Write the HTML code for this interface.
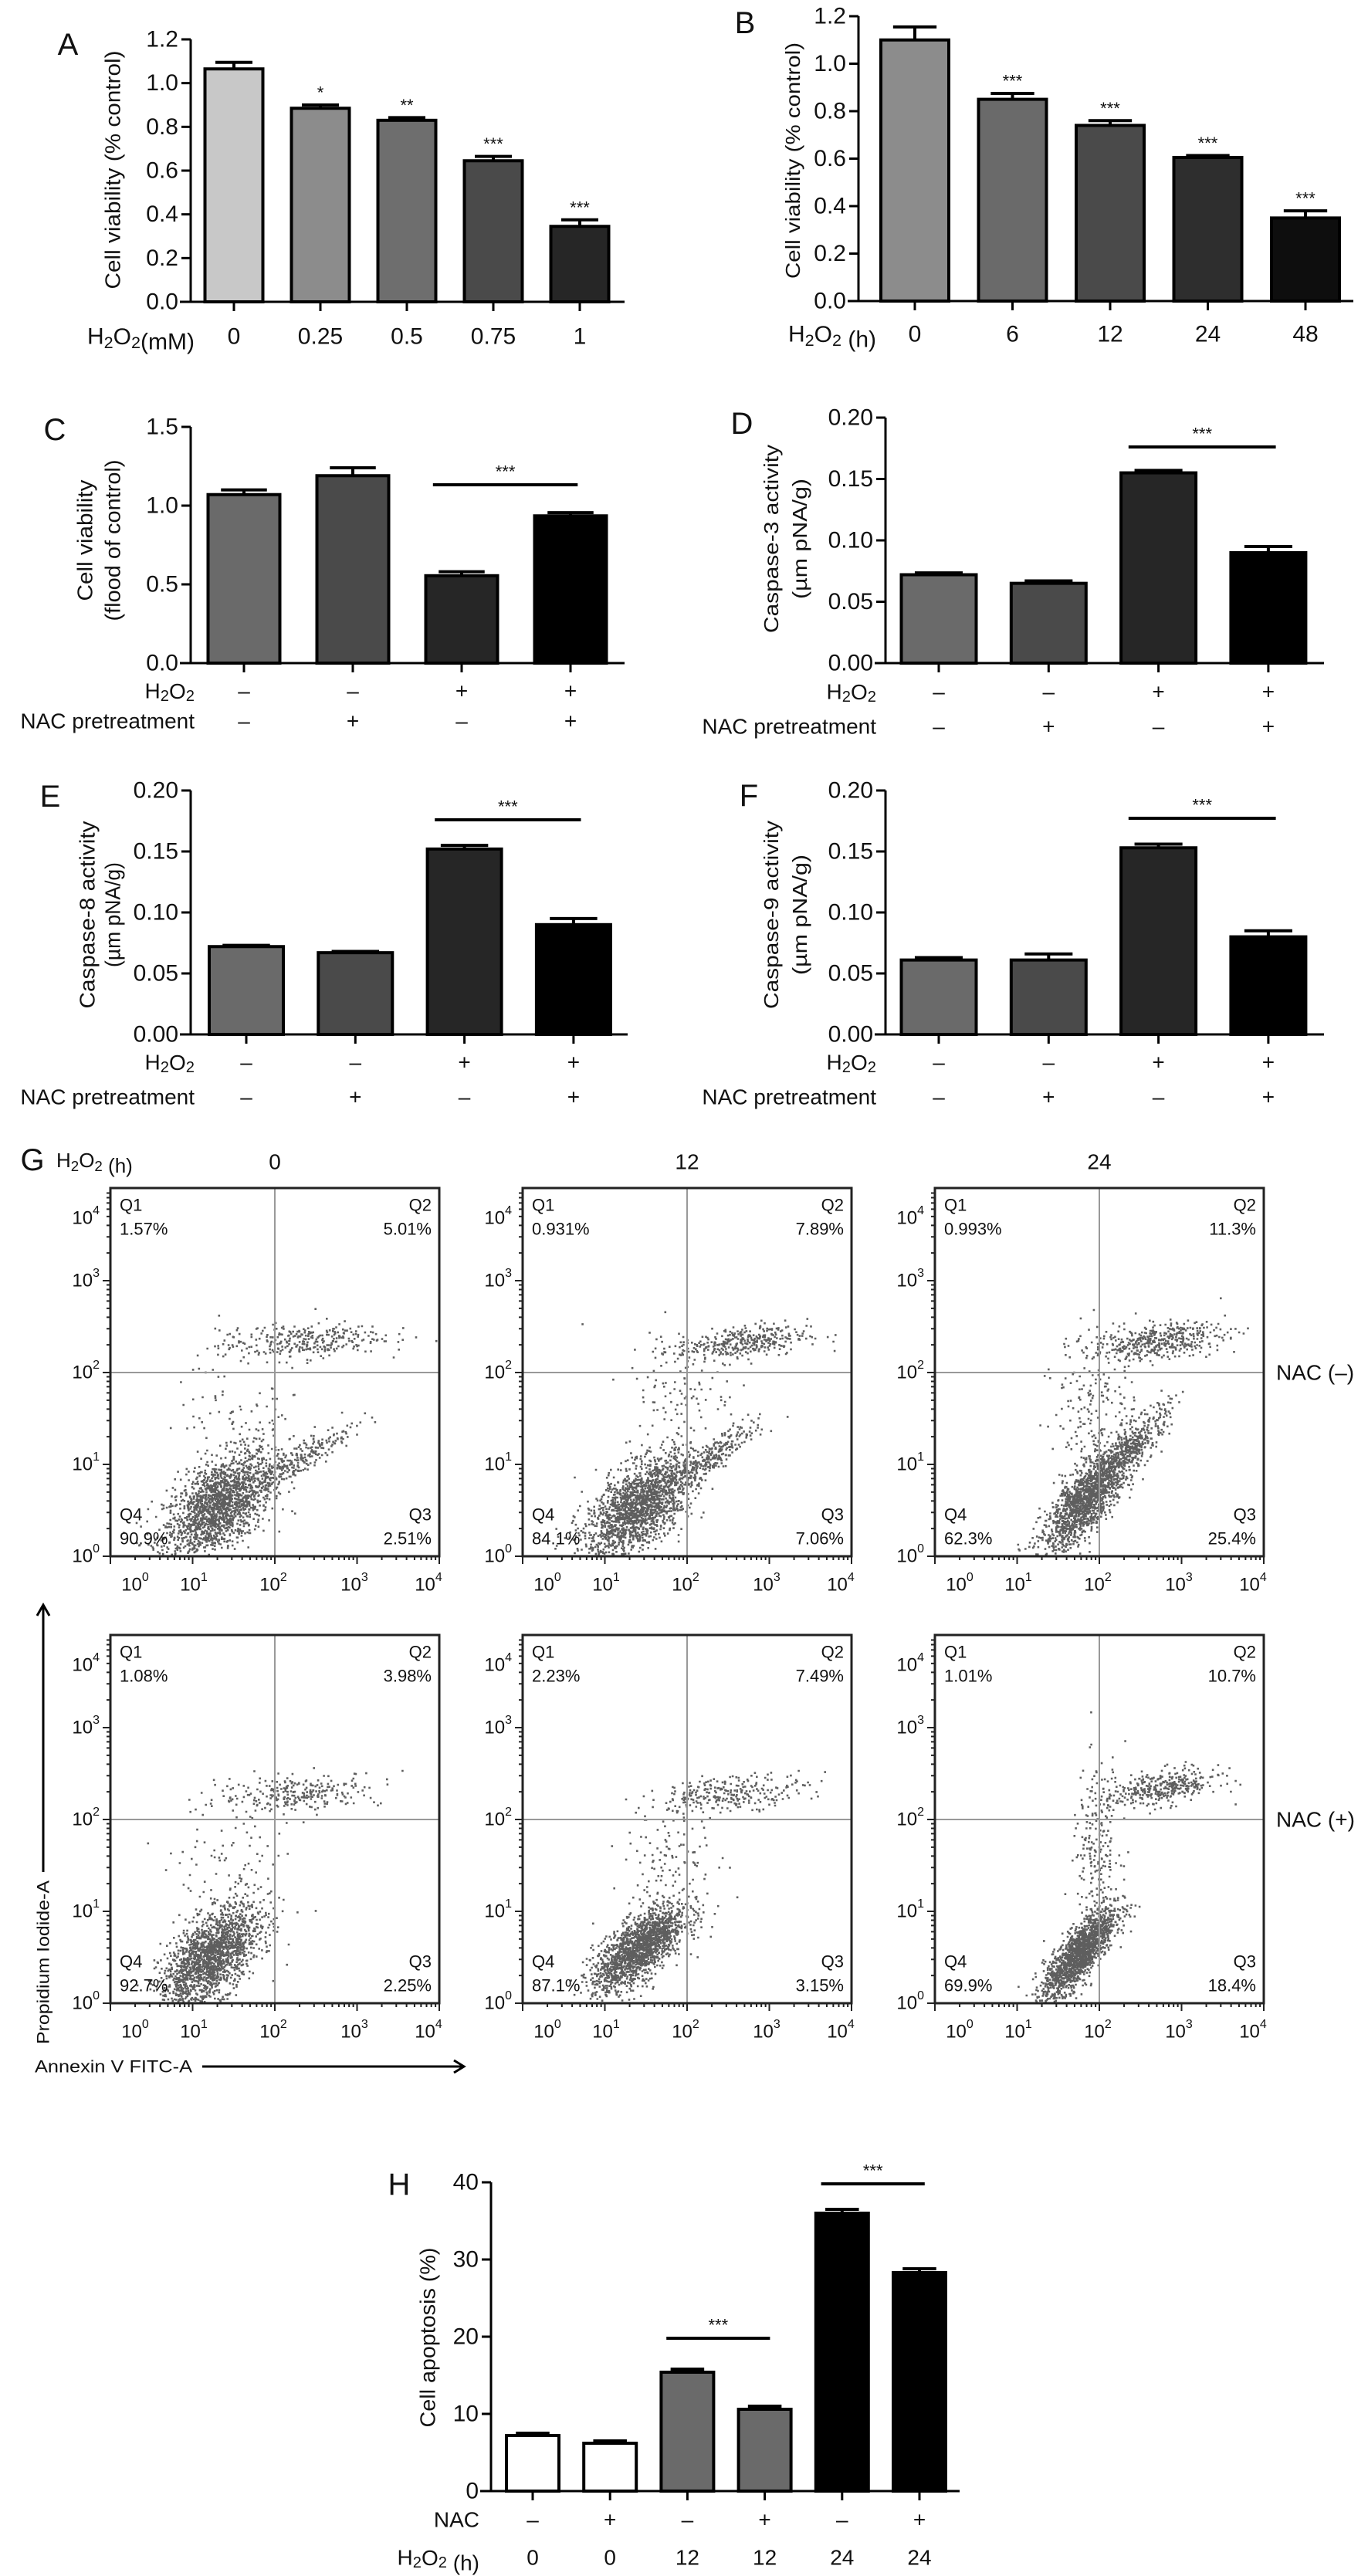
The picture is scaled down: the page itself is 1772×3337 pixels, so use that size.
<!DOCTYPE html>
<html><head><meta charset="utf-8">
<style>
html,body{margin:0;padding:0;background:#fff;}
svg{display:block;font-family:"Liberation Sans",Arial,sans-serif;}
</style></head>
<body>
<svg id="fig" width="1772" height="3337" viewBox="0 0 1772 3337" xmlns="http://www.w3.org/2000/svg"></svg>
<script>
// ---------- DATA ----------
const A_cats=['0','0.25','0.5','0.75','1'];
const A_vals=[1.065,0.885,0.83,0.645,0.345];
const A_errs=[0.03,0.015,0.012,0.02,0.03];
const A_stars=['','*','**','***','***'];
const A_ticks=['0.0','0.2','0.4','0.6','0.8','1.0','1.2'];

const B_cats=['0','6','12','24','48'];
const B_vals=[1.10,0.85,0.74,0.605,0.35];
const B_errs=[0.055,0.025,0.02,0.008,0.03];
const B_stars=['','***','***','***','***'];
const B_ticks=['0.0','0.2','0.4','0.6','0.8','1.0','1.2'];

const NAC_row1=['\u2013','\u2013','+','+'];
const NAC_row2=['\u2013','+','\u2013','+'];

const C_vals=[1.07,1.19,0.555,0.935];
const C_errs=[0.03,0.05,0.025,0.02];
const C_ticks=['0.0','0.5','1.0','1.5'];

const D_vals=[0.072,0.065,0.155,0.090];
const D_errs=[0.0015,0.002,0.002,0.005];
const E_vals=[0.072,0.067,0.152,0.090];
const E_errs=[0.001,0.001,0.003,0.005];
const F_vals=[0.061,0.061,0.153,0.080];
const F_errs=[0.002,0.005,0.003,0.005];
const CASP_ticks=['0.00','0.05','0.10','0.15','0.20'];

const H_nac=['\u2013','+','\u2013','+','\u2013','+'];
const H_time=['0','0','12','12','24','24'];
const H_vals=[7.2,6.2,15.4,10.6,36.0,28.3];
const H_errs=[0.3,0.3,0.4,0.4,0.5,0.5];
const H_ticks=['0','10','20','30','40'];

// flow quadrant percentages [Q1,Q2,Q3,Q4]
const G_times=['0','12','24'];
const G_top=[['1.57%','5.01%','2.51%','90.9%'],['0.931%','7.89%','7.06%','84.1%'],['0.993%','11.3%','25.4%','62.3%']];
const G_bot=[['1.08%','3.98%','2.25%','92.7%'],['2.23%','7.49%','3.15%','87.1%'],['1.01%','10.7%','18.4%','69.9%']];
// cluster specs: [cx(log), cy(log), sx, sy, corr, n]
const G_clusters_top=[
 [[1.3,0.55,0.33,0.3,0.55,1800],[2.25,1.05,0.35,0.2,0.9,260],[2.3,2.35,0.5,0.1,0.3,300],[1.6,1.6,0.4,0.4,0,90]],
 [[1.4,0.55,0.33,0.28,0.6,1800],[2.3,1.1,0.3,0.2,0.9,260],[2.65,2.33,0.4,0.1,0.4,360],[1.9,1.8,0.35,0.35,0,100]],
 [[1.85,0.65,0.28,0.3,0.8,1600],[2.45,1.25,0.2,0.2,0.8,300],[2.7,2.35,0.4,0.1,0.4,420],[1.95,1.7,0.25,0.4,0,180]]];
const G_clusters_bot=[
 [[1.2,0.5,0.3,0.28,0.6,1800],[2.3,2.3,0.5,0.1,0.3,260],[1.5,1.4,0.35,0.4,0,100]],
 [[1.4,0.6,0.28,0.24,0.7,1700],[2.55,2.3,0.45,0.1,0.4,260],[1.8,1.6,0.3,0.4,0,120]],
 [[1.75,0.55,0.22,0.25,0.8,1600],[1.95,1.6,0.15,0.5,0.2,220],[2.75,2.35,0.35,0.1,0.4,360]]];

// ---------- HELPERS ----------
const SVG='http://www.w3.org/2000/svg';
const fig=document.getElementById('fig');
function mk(tag,attrs,parent){const e=document.createElementNS(SVG,tag);for(const k in attrs)e.setAttribute(k,attrs[k]);(parent||fig).appendChild(e);return e;}
function txt(x,y,s,size,anchor,parent,extra){const t=mk('text',Object.assign({x:x,y:y,'font-size':size,'text-anchor':anchor||'middle','dominant-baseline':'central',fill:'#111'},extra||{}),parent);t.innerHTML=s;return t;}
const H2O2='H<tspan dy="7" font-size="0.72em">2</tspan><tspan dy="-7">O</tspan><tspan dy="7" font-size="0.72em">2</tspan><tspan dy="-7"></tspan>';

function barChart(p){
  const g=mk('g',{});
  
  
  const ys=v=>p.y0-v/p.max*(p.y0-p.yTop);
  const n=p.vals.length;
  for(let i=0;i<n;i++){
    const cx=p.c0+i*p.step, top=ys(p.vals[i]);
    const r=mk('rect',{x:cx-p.bw/2,y:top,width:p.bw,height:p.y0-top,fill:p.colors[i],stroke:'#000','stroke-width':4},g);
    
    
    const et=ys(p.vals[i]+p.errs[i]);
    const e=mk('path',{d:`M${cx},${top} V${et} M${cx-p.bw*0.32},${et} H${cx+p.bw*0.32}`,stroke:'#000','stroke-width':4,fill:'none'},g);
    
    
    if(p.stars&&p.stars[i]){const s=txt(cx,et-16,p.stars[i],22,'middle',g);}
    mk('line',{x1:cx,y1:p.y0,x2:cx,y2:p.y0+12,stroke:'#000','stroke-width':3},g);
  }
  const ax=mk('path',{d:`M${p.x0},${p.yTop} V${p.y0} M${p.x0-14},${p.y0} H${p.x1}`,stroke:'#000','stroke-width':3,fill:'none'},g);
  
  
  p.ticks.forEach(tl=>{const v=parseFloat(tl),y=ys(v);
    mk('line',{x1:p.x0-12,y1:y,x2:p.x0,y2:y,stroke:'#000','stroke-width':3},g);
    const t=txt(p.x0-16,y,tl,p.tf,'end',g);});
  (p.rows||[]).forEach(row=>{
    row.vals.forEach((s,i)=>{const t=txt(p.c0+i*p.step,row.y,s,p.rf||30,'middle',g);});
    const l=txt(p.labelX,row.y,row.label,p.rf||30,'end',g);
  });
  p.titles.forEach(tt=>{const t=txt(tt[0],p.tcy,tt[1],tt[3]||26,'middle',g,{transform:`rotate(-90 ${tt[0]} ${p.tcy})`,textLength:tt[2],lengthAdjust:'spacingAndGlyphs'});});
  const L=txt(p.letter[0],p.letter[1],p.letter[2],40,'middle',g);
  (p.sig||[]).forEach(s=>{
    const i1=s[0],i2=s[1];const xa=p.c0+i1*p.step-p.bw*0.4,xb=p.c0+i2*p.step+p.bw*0.1;
    const ln=mk('line',{x1:xa,y1:s[2],x2:xb,y2:s[2],stroke:'#000','stroke-width':4},g);
    
    
    const st=txt((xa+xb)/2,s[2]-17,'***',22,'middle',g);
  });
  return g;
}
const gA=['#c8c8c8','#8c8c8c','#6e6e6e','#4a4a4a','#262626'];
const gB=['#8c8c8c','#6a6a6a','#4a4a4a','#2e2e2e','#0e0e0e'];
const gC=['#6a6a6a','#4a4a4a','#262626','#000'];

barChart({name:'panel-a-chart',x0:247,x1:809,y0:391,yTop:51,max:1.2,ticks:A_ticks,tf:30,c0:303,step:112,bw:75,vals:A_vals,errs:A_errs,colors:gA,stars:A_stars,
 rows:[{y:436,vals:A_cats,label:H2O2+'(mM)'}],labelX:252,titles:[[146,'Cell viability (% control)',309,28]],tcy:220,letter:[88,58,'A']});
barChart({name:'panel-b-chart',x0:1112,x1:1753,y0:390,yTop:21,max:1.2,ticks:B_ticks,tf:30,c0:1185,step:126.5,bw:88,vals:B_vals,errs:B_errs,colors:gB,stars:B_stars,
 rows:[{y:433,vals:B_cats,label:H2O2+' (h)'}],labelX:1135,titles:[[1027,'Cell viability (% control)',306,26]],tcy:208,letter:[965,30,'B']});
barChart({name:'panel-c-chart',x0:247,x1:809,y0:859,yTop:553,max:1.5,ticks:C_ticks,tf:30,c0:316,step:141,bw:93,vals:C_vals,errs:C_errs,colors:gC,
 rows:[{y:895,vals:NAC_row1,label:H2O2},{y:934,vals:NAC_row2,label:'NAC pretreatment'}],labelX:252,rf:28,
 titles:[[110,'Cell viability',157,28],[146,'(flood of control)',209,28]],tcy:700,letter:[71,557,'C'],sig:[[2,3,628]]});
barChart({name:'panel-d-chart',x0:1147,x1:1715,y0:859,yTop:541,max:0.2,ticks:CASP_ticks,tf:30,c0:1216,step:142.3,bw:97,vals:D_vals,errs:D_errs,colors:gC,
 rows:[{y:896,vals:NAC_row1,label:H2O2},{y:941,vals:NAC_row2,label:'NAC pretreatment'}],labelX:1135,rf:28,
 titles:[[999,'Caspase-3 activity',244,26],[1036,'(\u00b5m pNA/g)',156,26]],tcy:698,letter:[961,549,'D'],sig:[[2,3,579]]});
barChart({name:'panel-e-chart',x0:247,x1:813,y0:1340,yTop:1024,max:0.2,ticks:CASP_ticks,tf:30,c0:319,step:141.3,bw:96,vals:E_vals,errs:E_errs,colors:gC,
 rows:[{y:1376,vals:NAC_row1,label:H2O2},{y:1421,vals:NAC_row2,label:'NAC pretreatment'}],labelX:252,rf:28,
 titles:[[113,'Caspase-8 activity',243,28],[146,'(\u00b5m pNA/g)',136,28]],tcy:1185,letter:[65,1032,'E'],sig:[[2,3,1062]]});
barChart({name:'panel-f-chart',x0:1147,x1:1715,y0:1340,yTop:1024,max:0.2,ticks:CASP_ticks,tf:30,c0:1216,step:142.3,bw:97,vals:F_vals,errs:F_errs,colors:gC,
 rows:[{y:1376,vals:NAC_row1,label:H2O2},{y:1421,vals:NAC_row2,label:'NAC pretreatment'}],labelX:1135,rf:28,
 titles:[[999,'Caspase-9 activity',244,26],[1036,'(\u00b5m pNA/g)',156,26]],tcy:1185,letter:[970,1031,'F'],sig:[[2,3,1060]]});
barChart({name:'panel-h-chart',x0:636,x1:1243,y0:3227,yTop:2827,max:40,ticks:H_ticks,tf:30,c0:690,step:100.2,bw:68,vals:H_vals,errs:H_errs,colors:['#fff','#fff','#6a6a6a','#6a6a6a','#000','#000'],
 rows:[{y:3264,vals:H_nac,label:'NAC'},{y:3313,vals:H_time,label:H2O2+' (h)'}],labelX:621,rf:28,
 titles:[[554,'Cell apoptosis (%)',233,28]],tcy:3028,letter:[517,2830,'H'],sig:[[2,3,3029],[4,5,2829]]});

// ---------- FLOW CYTOMETRY ----------
let seed=12345;
function rnd(){seed=(seed*1103515245+12345)%2147483648;return seed/2147483648;}
function gauss(){let u=rnd()||1e-6,v=rnd();return Math.sqrt(-2*Math.log(u))*Math.cos(2*Math.PI*v);}
const colLeft=[143,677,1211], BW=426, DX=106.5, DY=119;
function flowPlot(col,bottomY,pcts,clusters,row){
  const L=colLeft[col],R=L+BW,T=bottomY-4*DY-1;
  const g=mk('g',{});
  
  
  const xs=v=>L+v*DX, ys=v=>bottomY-v*DY;
  let d='';
  clusters.forEach(c=>{for(let k=0;k<c[5];k++){const a=gauss(),b=gauss();const lx=c[0]+c[2]*a,ly=c[1]+c[3]*(c[4]*a+Math.sqrt(1-c[4]*c[4])*b);
    const px=xs(lx),py=ys(ly);if(px>L+3&&px<R-3&&py>T+3&&py<bottomY-3)d+=`M${px.toFixed(1)} ${py.toFixed(1)}h2.6v2.6h-2.6z`;}});
  const dots=mk('path',{d:d,fill:'#1a1a1a','fill-opacity':0.7},g);
  
  
  mk('line',{x1:xs(2),y1:T,x2:xs(2),y2:bottomY,stroke:'#999','stroke-width':2},g);
  mk('line',{x1:L,y1:ys(2),x2:R,y2:ys(2),stroke:'#999','stroke-width':2},g);
  const box=mk('rect',{x:L,y:T,width:BW,height:bottomY-T,fill:'none',stroke:'#222','stroke-width':3},g);
  
  
  let td='';
  for(let dec=0;dec<4;dec++)for(let m=1;m<10;m++){const f=dec+Math.log10(m);const len=m===1?10:5;
    td+=`M${xs(f)} ${bottomY} v${len}`;td+=`M${L} ${ys(f)} h${-len}`;}
  td+=`M${R} ${bottomY} v10`;
  mk('path',{d:td,stroke:'#222','stroke-width':2},g);
  const xl=[32,108,211,316,412];
  xl.forEach((o,i)=>{const t=txt(L+o,bottomY+37,`10<tspan dy="-10" font-size="16">${i}</tspan>`,24,'middle',g);});
  const yl=[bottomY,ys(1),ys(2),ys(3),bottomY-4*DY+38];
  yl.forEach((y,i)=>{const t=txt(L-14,y,`10<tspan dy="-10" font-size="16">${i}</tspan>`,24,'end',g);});
  const q=[['Q1',pcts[0],L+12,T+22,'start'],['Q2',pcts[1],R-10,T+22,'end'],['Q4',pcts[3],L+12,bottomY-54,'start'],['Q3',pcts[2],R-10,bottomY-54,'end']];
  q.forEach(a=>{const t1=txt(a[2],a[3],a[0],22,a[4],g);
    const t2=txt(a[2],a[3]+31,a[1],22,a[4],g);});
}
for(let c=0;c<3;c++){flowPlot(c,2016,G_top[c],G_clusters_top[c],'nac-minus');flowPlot(c,2595,G_bot[c],G_clusters_bot[c],'nac-plus');}
let t;
t=txt(42,1503,'G',40,'middle');
t=txt(73,1503,H2O2+' (h)',26,'start');
G_times.forEach((s,i)=>{const h=txt(colLeft[i]+2*DX,1505,s,28,'middle');});
t=txt(1653,1778,'NAC (\u2013)',28,'start');
t=txt(1653,2357,'NAC (+)',28,'start');
t=txt(45,2677,'Annexin V FITC-A',22,'start',fig,{textLength:204,lengthAdjust:'spacingAndGlyphs'});
t=txt(56,2542,'Propidium Iodide-A',22,'middle',fig,{transform:'rotate(-90 56 2542)',textLength:212,lengthAdjust:'spacingAndGlyphs'});
let ar=mk('path',{d:'M262 2677 H600 M588 2669 L601 2677 L588 2685',stroke:'#000','stroke-width':3,fill:'none'});


ar=mk('path',{d:'M56 2425 V2080 M48 2093 L56 2079 L64 2093',stroke:'#000','stroke-width':3,fill:'none'});


</script>
</body></html>
